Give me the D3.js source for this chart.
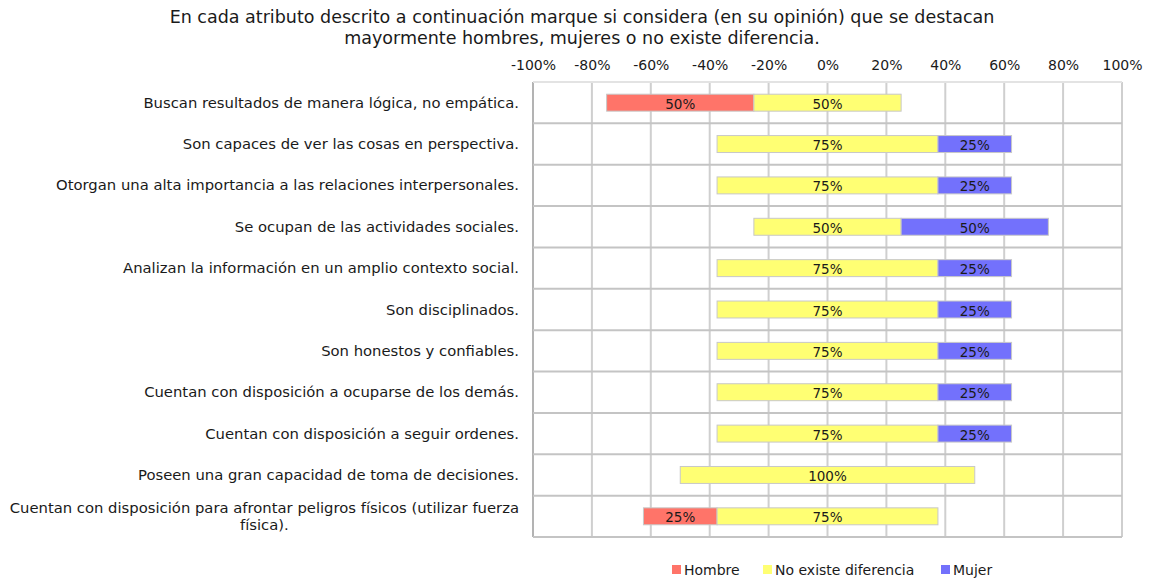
<!DOCTYPE html>
<html>
<head>
<meta charset="utf-8">
<script src="https://cdn.jsdelivr.net/npm/d3@7"></script>
<style>
  body { margin: 0; background: #fff; }
  text { font-family: "DejaVu Sans", sans-serif; fill: #1a1a1a; }
</style>
</head>
<body>
<svg id="chart" width="1149" height="579"></svg>
<script>
const categories = [
    "Buscan resultados de manera lógica, no empática.",
    "Son capaces de ver las cosas en perspectiva.",
    "Otorgan una alta importancia a las relaciones interpersonales.",
    "Se ocupan de las actividades sociales.",
    "Analizan la información en un amplio contexto social.",
    "Son disciplinados.",
    "Son honestos y confiables.",
    "Cuentan con disposición a ocuparse de los demás.",
    "Cuentan con disposición a seguir ordenes.",
    "Poseen una gran capacidad de toma de decisiones.",
    "Cuentan con disposición para afrontar peligros físicos (utilizar fuerza física)."
];
const hombre    = [50, 0, 0, 0, 0, 0, 0, 0, 0, 0, 25];
const noExiste  = [50, 75, 75, 50, 75, 75, 75, 75, 75, 100, 75];
const mujer     = [0, 25, 25, 50, 25, 25, 25, 25, 25, 0, 0];
const tickValues = [-100, -80, -60, -40, -20, 0, 20, 40, 60, 80, 100];
const seriesNames = ["Hombre", "No existe diferencia", "Mujer"];
const colors = ["#ff7469", "#ffff73", "#7371fc"];

const margins = { top: 82, right: 27, bottom: 42, left: 533 };
const totalWidth = 1149;
const totalHeight = 579;
const innerWidth = totalWidth - margins.left - margins.right;
const innerHeight = totalHeight - margins.top - margins.bottom;

const svg = d3.select("#chart");

// title
svg.append("text")
    .attr("text-anchor", "middle")
    .style("font-size", "17.5px")
    .selectAll("tspan")
    .data(["En cada atributo descrito a continuación marque si considera (en su opinión) que se destacan",
           "mayormente hombres, mujeres o no existe diferencia."])
    .enter().append("tspan")
    .attr("x", 582)
    .attr("y", (d, i) => 23 + i * 21)
    .text(d => d);

const xscale = d3.scaleLinear([-100, 100], [0, innerWidth]);
const yscale = d3.scaleBand(categories, [0, innerHeight]).paddingInner(0.59).paddingOuter(0.295);
const rowStep = innerHeight / categories.length;

const chart = svg.append("g").attr("transform", `translate(${margins.left},${margins.top})`);

// vertical grid
chart.selectAll(".vgrid").data(tickValues).enter()
    .append("line")
    .attr("class", "vgrid")
    .attr("x1", d => xscale(d)).attr("x2", d => xscale(d))
    .attr("y1", 0).attr("y2", innerHeight)
    .attr("stroke", (d, i) => i === 0 ? "#b3b3b3" : "#cfcfcf")
    .attr("stroke-width", 2);

// horizontal grid (row boundaries)
chart.selectAll(".hgrid").data(d3.range(categories.length + 1)).enter()
    .append("line")
    .attr("class", "hgrid")
    .attr("x1", 0).attr("x2", innerWidth)
    .attr("y1", d => d * rowStep).attr("y2", d => d * rowStep)
    .attr("stroke", d => d === 0 ? "#e3e3e3" : "#c4c4c4")
    .attr("stroke-width", 2);

// top axis labels
const xaxis = d3.axisTop(xscale).tickValues(tickValues).tickFormat(d => d + "%").tickSize(0).tickPadding(12);
const axisG = chart.append("g").call(xaxis);
axisG.select(".domain").remove();
axisG.selectAll("text").style("font-size", "14px").style("font-family", null).attr("fill", "#1a1a1a");

// stacked bars
const rows = categories.map((c, i) => {
    const start = -noExiste[i] / 2 - hombre[i];
    return [
        { cat: c, s: 0, x0: start, x1: start + hombre[i], v: hombre[i] },
        { cat: c, s: 1, x0: -noExiste[i] / 2, x1: noExiste[i] / 2, v: noExiste[i] },
        { cat: c, s: 2, x0: noExiste[i] / 2, x1: noExiste[i] / 2 + mujer[i], v: mujer[i] }
    ].filter(d => d.v > 0);
}).flat();

chart.selectAll(".bar").data(rows).enter()
    .append("rect")
    .attr("class", "bar")
    .attr("x", d => xscale(d.x0))
    .attr("y", d => yscale(d.cat))
    .attr("width", d => xscale(d.x1) - xscale(d.x0))
    .attr("height", yscale.bandwidth())
    .attr("fill", d => colors[d.s])
    .attr("stroke", "#c8c8c8")
    .attr("stroke-width", 1);

chart.selectAll(".barlabel").data(rows).enter()
    .append("text")
    .attr("class", "barlabel")
    .attr("x", d => xscale((d.x0 + d.x1) / 2))
    .attr("y", d => yscale(d.cat) + yscale.bandwidth() / 2 + 6)
    .attr("text-anchor", "middle")
    .style("font-size", "13.5px")
    .text(d => d.v + "%");

// category labels, wrapped when too long
const labelRight = -14;
const maxWidth = 520;
chart.selectAll(".cat").data(categories).enter()
    .append("text")
    .attr("class", "cat")
    .style("font-size", "14.8px")
    .each(function(d) {
        const t = d3.select(this);
        const words = d.split(" ");
        const lines = [];
        let line = [];
        const probe = t.append("tspan");
        words.forEach(w => {
            line.push(w);
            probe.text(line.join(" "));
            if (probe.node().getComputedTextLength() > maxWidth && line.length > 1) {
                line.pop();
                lines.push(line.join(" "));
                line = [w];
            }
        });
        lines.push(line.join(" "));
        probe.remove();
        const cy = yscale(d) + yscale.bandwidth() / 2;
        if (lines.length === 1) {
            t.append("tspan").attr("x", labelRight).attr("y", cy + 5)
                .attr("text-anchor", "end").text(lines[0]);
        } else {
            const tmp = t.append("tspan").text(lines[0]);
            const w = tmp.node().getComputedTextLength();
            tmp.remove();
            lines.forEach((l, i) => {
                t.append("tspan")
                    .attr("x", labelRight - w / 2)
                    .attr("y", cy + 5 + (i - (lines.length - 1) / 2) * 17)
                    .attr("text-anchor", "middle")
                    .text(l);
            });
        }
    });

// legend
const legendX = [672, 763, 941];
const legend = svg.selectAll(".legend").data(seriesNames).enter()
    .append("g")
    .attr("class", "legend")
    .attr("transform", (d, i) => `translate(${legendX[i]},565)`);
legend.append("rect").attr("width", 9).attr("height", 9).attr("fill", (d, i) => colors[i]);
legend.append("text").attr("x", 12).attr("y", 10).style("font-size", "14px").text(d => d);
</script>
</body>
</html>
